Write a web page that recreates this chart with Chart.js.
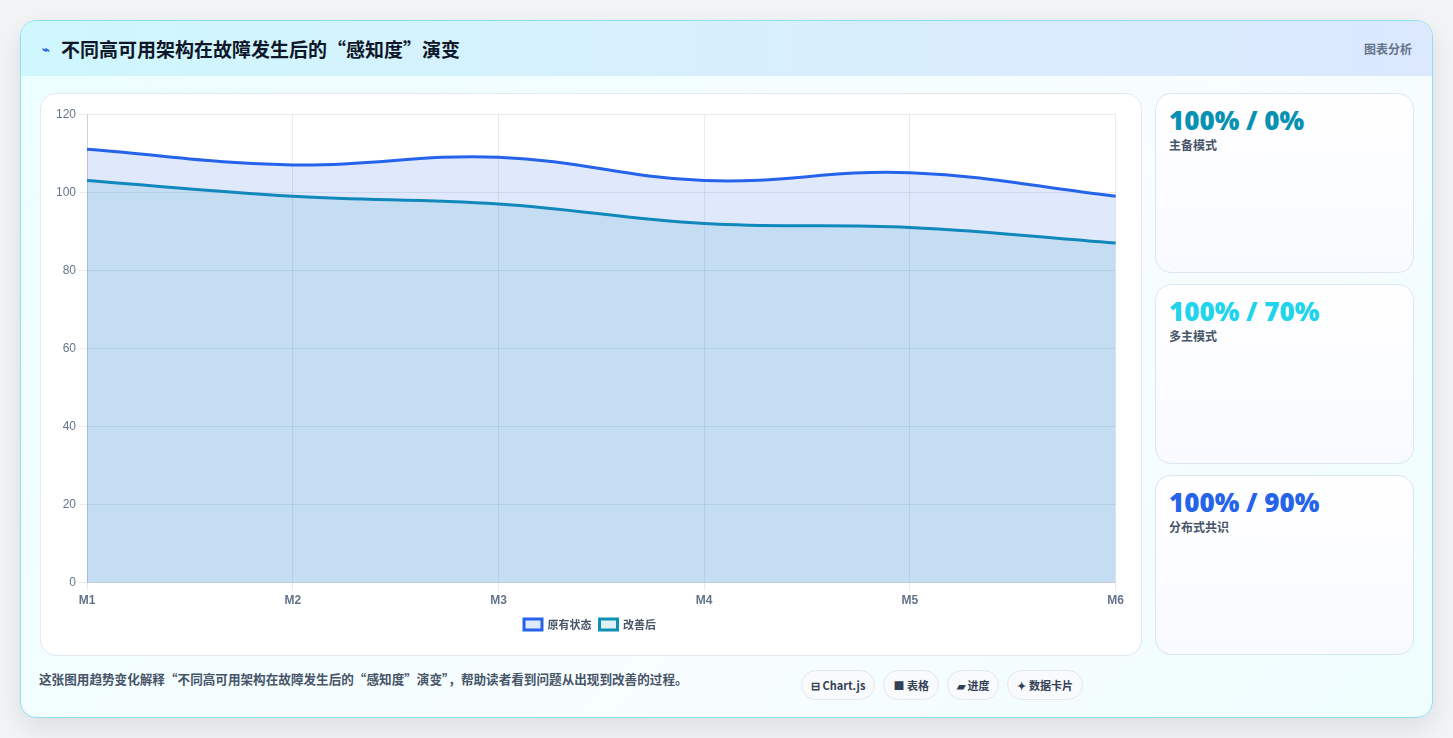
<!DOCTYPE html>
<html lang="zh-CN">
<head>
<meta charset="utf-8">
<title>不同高可用架构在故障发生后的“感知度”演变</title>
<script src="https://cdn.jsdelivr.net/npm/chart.js@4.4.1/dist/chart.umd.min.js"></script>
<style>
  * { box-sizing: border-box; }
  html, body { margin: 0; padding: 0; }
  body {
    width: 1453px; height: 738px; overflow: hidden;
    background: #f3f4f6;
    font-family: "Noto Sans CJK SC", "Noto Sans", sans-serif;
  }
  .panel {
    position: absolute; left: 20px; top: 20px; width: 1413px; height: 698px;
    border: 1px solid #8fdfee; border-radius: 16px; overflow: hidden;
    background: linear-gradient(135deg, #ecfeff 0%, #f8fdff 60%, #effdfd 100%);
    box-shadow: 0 10px 28px rgba(15, 23, 42, 0.10);
  }
  .head {
    height: 55px; display: flex; align-items: center; justify-content: space-between;
    padding: 0 20px 0 21px;
    background: linear-gradient(90deg, #cff7fd 0%, #d9eefd 60%, #dbe8fe 100%);
  }
  .head h1 { margin: 0; font-size: 19px; font-weight: 700; color: #0f172a; display: flex; align-items: center; }
  .head h1 .ic { color: #2563eb; font-size: 13px; margin-right: 11px; }
  .head .tag { font-size: 12px; font-weight: 700; color: #64748b; }
  .chartCard {
    position: absolute; left: 19px; top: 72px; width: 1102px; height: 563px;
    background: #fff; border: 1px solid #e2e8f0; border-radius: 16px;
    padding: 10px 14px 15px 12px;
  }
  .chartCard .box { position: relative; width: 100%; height: 100%; }
  .side { position: absolute; left: 1134px; top: 72px; width: 259px; }
  .card {
    height: 180px; margin-bottom: 11px;
    border: 1px solid #dbe7f3; border-radius: 16px;
    background: linear-gradient(180deg, #ffffff 0%, #f8faff 100%);
    padding: 10px 13px;
  }
  .card .v { font-family: "Open Sans", "Noto Sans", sans-serif; font-size: 26px; font-weight: 800; line-height: 32px; }
  .card .l { font-size: 12px; font-weight: 700; color: #475569; margin-top: 0; }
  .foot {
    position: absolute; left: 18px; top: 648px; font-size: 12.6px; font-weight: 700; color: #475569;
  }
  .pills { position: absolute; left: 780px; top: 649px; display: flex; gap: 8px; }
  .pill {
    height: 30px; padding: 0 9px; border-radius: 15px; border: 1px solid #e2e8f0;
    background: #f8fafc; font-size: 11px; font-weight: 700; color: #334155;
    display: flex; align-items: center;
  }
</style>
</head>
<body>
<div class="panel">
  <div class="head">
    <h1><span class="ic">⌁</span>不同高可用架构在故障发生后的“感知度”演变</h1>
    <span class="tag">图表分析</span>
  </div>
  <div class="chartCard"><div class="box"><canvas id="areaChart"></canvas></div></div>
  <div class="side">
    <div class="card"><div class="v" style="color:#0891b2">100% / 0%</div><div class="l">主备模式</div></div>
    <div class="card"><div class="v" style="color:#22d3ee">100% / 70%</div><div class="l">多主模式</div></div>
    <div class="card"><div class="v" style="color:#2563eb">100% / 90%</div><div class="l">分布式共识</div></div>
  </div>
  <div class="foot">这张图用趋势变化解释“不同高可用架构在故障发生后的“感知度”演变”，帮助读者看到问题从出现到改善的过程。</div>
  <div class="pills">
    <div class="pill">⊟ Chart.js</div>
    <div class="pill">■ 表格</div>
    <div class="pill">▰ 进度</div>
    <div class="pill">✦ 数据卡片</div>
  </div>
</div>
<script>
const months = ['M1', 'M2', 'M3', 'M4', 'M5', 'M6'];
const originalState = [111, 107, 109, 103, 105, 99];
const improved = [103, 99, 97, 92, 91, 87];
const yTicks = [0, 20, 40, 60, 80, 100, 120];

const ctx = document.getElementById('areaChart').getContext('2d');
const areaChart = new Chart(ctx, {
    type: 'line',
    data: {
        labels: months,
        datasets: [
            {
                label: '原有状态',
                data: originalState,
                borderColor: '#2563eb',
                backgroundColor: 'rgba(37, 99, 235, 0.14)',
                borderWidth: 3,
                fill: 'origin',
                tension: 0.4,
                pointRadius: 0
            },
            {
                label: '改善后',
                data: improved,
                borderColor: '#0e8fb5',
                backgroundColor: 'rgba(8, 145, 178, 0.13)',
                borderWidth: 3,
                fill: 'origin',
                tension: 0.4,
                pointRadius: 0
            }
        ]
    },
    options: {
        responsive: true,
        maintainAspectRatio: false,
        animation: false,
        plugins: {
            legend: {
                position: 'bottom',
                labels: {
                    boxWidth: 18,
                    boxHeight: 11,
                    padding: 8,
                    color: '#475569',
                    font: { family: '"Noto Sans CJK SC", sans-serif', size: 11, weight: 'bold' }
                }
            },
            tooltip: { enabled: false }
        },
        scales: {
            x: {
                grid: { color: 'rgba(148, 163, 184, 0.22)' },
                border: { color: 'rgba(148, 163, 184, 0.35)' },
                ticks: { color: '#64748b', font: { family: '"Liberation Sans", Arial, sans-serif', size: 12, weight: 'bold' } }
            },
            y: {
                min: 0,
                max: 120,
                afterBuildTicks: axis => { axis.ticks = yTicks.map(v => ({ value: v })); },
                grid: { color: 'rgba(148, 163, 184, 0.22)' },
                border: { color: 'rgba(148, 163, 184, 0.35)' },
                ticks: { color: '#64748b', font: { family: '"Liberation Sans", Arial, sans-serif', size: 12 } }
            }
        }
    }
});
</script>
</body>
</html>
